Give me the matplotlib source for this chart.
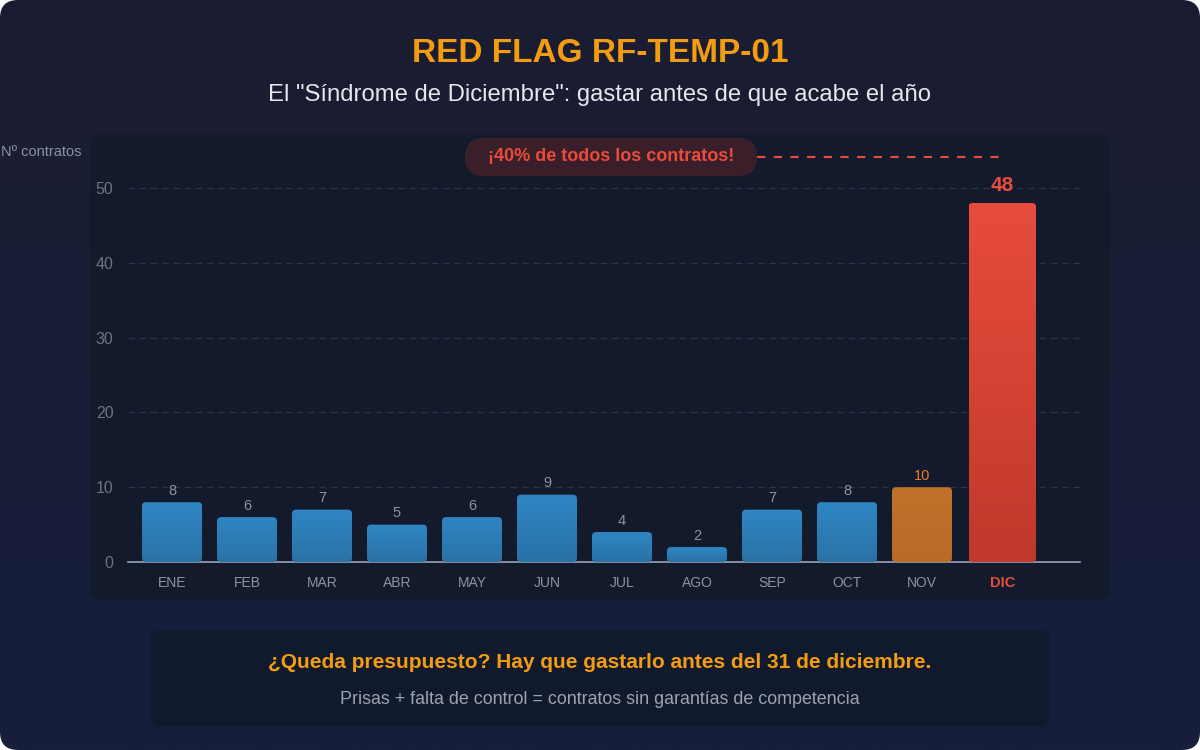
import numpy as np
import matplotlib
matplotlib.use("Agg")
import matplotlib.pyplot as plt
from matplotlib.patches import FancyBboxPatch
from matplotlib.colors import LinearSegmentedColormap

plt.rcParams['font.family'] = ['Liberation Sans', 'DejaVu Sans']

months = ["ENE", "FEB", "MAR", "ABR", "MAY", "JUN", "JUL", "AGO", "SEP", "OCT", "NOV", "DIC"]
contracts = [8, 6, 7, 5, 6, 9, 4, 2, 7, 8, 10, 48]
y_ticks = [0, 10, 20, 30, 40, 50]

title = "RED FLAG RF-TEMP-01"
subtitle = 'El "Síndrome de Diciembre": gastar antes de que acabe el año'
ylabel = "Nº contratos"
callout = "¡40% de todos los contratos!"
footer1 = "¿Queda presupuesto? Hay que gastarlo antes del 31 de diciembre."
footer2 = "Prisas + falta de control = contratos sin garantías de competencia"

W, H = 1200, 750
fig = plt.figure(figsize=(W / 100, H / 100), dpi=100)
fig.patch.set_facecolor("white")

def fx(x):
    return x / W

def fy(y):
    return 1 - y / H

# background with rounded corners and vertical gradient
bg = fig.add_axes([0, 0, 1, 1])
bg.set_xlim(0, W)
bg.set_ylim(H, 0)
bg.axis("off")
bg_cmap = LinearSegmentedColormap.from_list("bg", ["#1b1d31", "#171f3d"])
grad = np.linspace(0, 1, 256).reshape(-1, 1)
im = bg.imshow(grad, extent=[0, W, H, 0], cmap=bg_cmap, aspect="auto", zorder=0)
outer = FancyBboxPatch((0, 0), W, H, boxstyle="round,pad=0,rounding_size=18",
                       facecolor="none", edgecolor="none", transform=bg.transData)
bg.add_patch(outer)
im.set_clip_path(outer)

# chart panel
panel = FancyBboxPatch((90, 135), 1020, 465, boxstyle="round,pad=0,rounding_size=10",
                       facecolor="#131a2c", edgecolor="none", zorder=1)
bg.add_patch(panel)

# footer panel
foot = FancyBboxPatch((150, 630), 900, 97, boxstyle="round,pad=0,rounding_size=12",
                      facecolor="#111a2c", edgecolor="none", zorder=1)
bg.add_patch(foot)

# titles
fig.text(0.5, fy(53), title, ha="center", va="center", color="#f39c12",
         fontsize=24, fontweight="bold")
fig.text(0.5, fy(95), subtitle, ha="center", va="center", color="#e5e7eb", fontsize=17.2)
fig.text(fx(1), fy(152), ylabel, ha="left", va="center", color="#8b93a3", fontsize=10.5)
fig.text(0.5, fy(663), footer1, ha="center", va="center", color="#f39c12",
         fontsize=15, fontweight="bold")
fig.text(0.5, fy(699), footer2, ha="center", va="center", color="#9ca3af", fontsize=12.9)

# main axes: pixel geometry
ax_left, ax_right, ax_top, ax_bottom = 128, 1080, 138, 562
ax = fig.add_axes([fx(ax_left), fy(ax_bottom), (ax_right - ax_left) / W, (ax_bottom - ax_top) / H])
ax.set_facecolor("none")
px_x = 75.0
px_y = 7.48
x0 = 172
ax.set_xlim((ax_left - x0) / px_x, (ax_right - x0) / px_x)
ax.set_ylim(0, (ax_bottom - ax_top) / px_y)

for s in ["top", "right", "left"]:
    ax.spines[s].set_visible(False)
ax.spines["bottom"].set_color("#9aa3b5")
ax.spines["bottom"].set_linewidth(1.2)
ax.set_yticks(y_ticks)
ax.set_yticklabels([str(t) for t in y_ticks])
ax.tick_params(axis="y", length=0, colors="#6b7485", labelsize=11.5, pad=10.5)
ax.yaxis.grid(True, color="#2c3548", linestyle=(0, (5, 4)), linewidth=0.9)
ax.set_axisbelow(True)

xs = np.arange(len(months), dtype=float)
n = len(months)
xs[-1] += 0.07
widths = [0.8] * (n - 1) + [0.9]

ax.set_xticks(xs)
ax.set_xticklabels(months)
ax.tick_params(axis="x", length=0, colors="#8b93a3", labelsize=10, pad=10)
for i, lab in enumerate(ax.get_xticklabels()):
    if i == n - 1:
        lab.set_color("#e74c3c")
        lab.set_fontweight("bold")
        lab.set_fontsize(10.5)

blue = LinearSegmentedColormap.from_list("b", ["#2a72a6", "#2f86c3"])
orange = LinearSegmentedColormap.from_list("o", ["#b96a25", "#c0712a"])
red = LinearSegmentedColormap.from_list("r", ["#c0392b", "#e74c3c"])

bars = ax.bar(xs, contracts, width=widths, color="none", edgecolor="none")
aspect = px_x / px_y
for i, (b, v) in enumerate(zip(bars, contracts)):
    cmap = red if i == n - 1 else (orange if i == n - 2 else blue)
    xL, w = b.get_x(), b.get_width()
    patch = FancyBboxPatch((xL, 0), w, v, boxstyle="round,pad=0,rounding_size=0.055",
                           mutation_aspect=aspect, facecolor="none", edgecolor="none", zorder=3)
    ax.add_patch(patch)
    g = ax.imshow(np.linspace(0, 1, 64).reshape(-1, 1), extent=[xL, xL + w, 0, v],
                  origin="lower", cmap=cmap, aspect="auto", zorder=3)
    g.set_clip_path(patch)
    if i == n - 1:
        ax.text(b.get_x() + w / 2, v + 1.0, str(v), ha="center", va="bottom",
                color="#e74c3c", fontsize=15, fontweight="bold")
    elif i == n - 2:
        ax.text(b.get_x() + w / 2, v + 0.6, str(v), ha="center", va="bottom",
                color="#e67e22", fontsize=10.5)
    else:
        ax.text(b.get_x() + w / 2, v + 0.6, str(v), ha="center", va="bottom",
                color="#8b93a3", fontsize=10.5)

# callout pill and dashed leader line
pill_y = (ax_bottom - 157) / px_y
pill_x0 = (465 - x0) / px_x
pill_x1 = (757 - x0) / px_x
pill_h = 38 / px_y
pill = FancyBboxPatch((pill_x0, pill_y - pill_h / 2), pill_x1 - pill_x0, pill_h,
                      boxstyle="round,pad=0,rounding_size=0.25", mutation_aspect=aspect,
                      facecolor="#3a1f2b", edgecolor="none", zorder=4, clip_on=False)
ax.add_patch(pill)
ax.text((pill_x0 + pill_x1) / 2, pill_y, callout, ha="center", va="center",
        color="#e74c3c", fontsize=13, fontweight="bold", zorder=5)
ax.plot([pill_x1, xs[-1]], [pill_y, pill_y], color="#e74c3c",
        linestyle=(0, (4, 4)), linewidth=1.5, zorder=4, clip_on=False)

fig.savefig("out.png", dpi=100, facecolor=fig.get_facecolor())
